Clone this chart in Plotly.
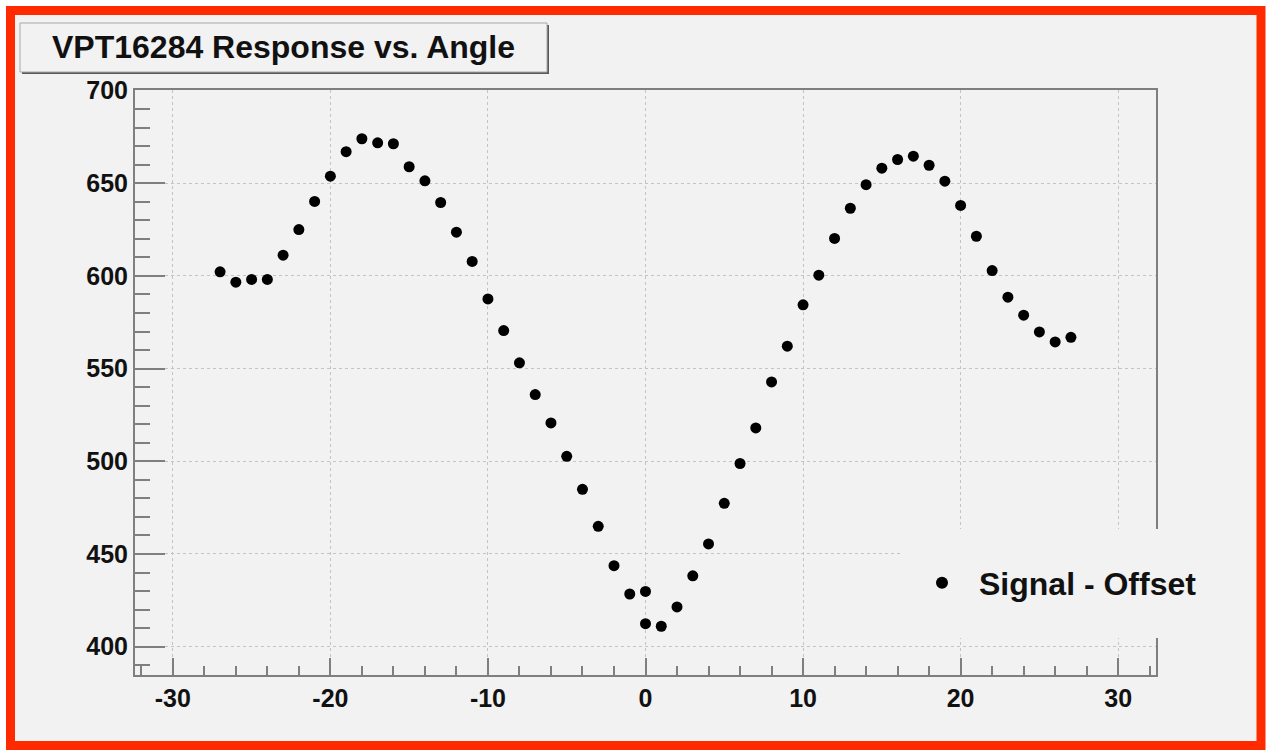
import plotly.graph_objects as go

# ---- data ----
angles = [-27, -26, -25, -24, -23, -22, -21, -20, -19, -18, -17, -16, -15, -14,
          -13, -12, -11, -10, -9, -8, -7, -6, -5, -4, -3, -2, -1, 0, 0,
          1, 2, 3, 4, 5, 6, 7, 8, 9, 10, 11, 12, 13, 14, 15, 16, 17, 18, 19,
          20, 21, 22, 23, 24, 25, 26, 27]
signal = [602.2, 596.6, 598.1, 598.1, 611.2, 625.0, 640.2, 653.8, 667.0, 674.0,
          671.8, 671.3, 658.9, 651.3, 639.6, 623.6, 607.8, 587.6, 570.5, 553.1,
          536.0, 520.7, 502.7, 484.9, 464.9, 443.7, 428.4, 429.8, 412.4,
          411.0, 421.4, 438.2, 455.4, 477.3, 498.8, 518.0, 542.8, 562.1, 584.4,
          600.4, 620.2, 636.5, 649.2, 658.1, 662.8, 664.6, 659.7, 651.1, 638.0,
          621.4, 602.9, 588.5, 578.8, 569.8, 564.4, 566.9]
series_name = "Signal - Offset"
title_text = "VPT16284 Response vs. Angle"
x_ticks = [-30, -20, -10, 0, 10, 20, 30]
y_ticks = [400, 450, 500, 550, 600, 650, 700]

W, H = 1268, 751
ML, MR, MT, MB = 135, 112, 90, 76
PW, PH = W - ML - MR, H - MT - MB


def px(x):
    return (x - ML) / PW


def py(y):
    return (H - MB - y) / PH


FONT = "Liberation Sans, Arial, Helvetica, sans-serif"
BG = "#f2f2f2"
AX = "#7f7f7f"

fig = go.Figure()
fig.add_trace(go.Scatter(
    x=angles, y=signal, mode="markers", name=series_name,
    marker=dict(color="black", size=11, symbol="circle"),
))

shapes = [
    # canvas with red border
    dict(type="rect", xref="paper", yref="paper", layer="below",
         x0=px(10.5), x1=px(1261), y0=py(10.5), y1=py(745.5),
         fillcolor=BG, line=dict(color="#ff2a00", width=9)),
    # title box shadow
    dict(type="rect", xref="paper", yref="paper", layer="below",
         x0=px(22), x1=px(549), y0=py(25), y1=py(74),
         fillcolor="#5a5a5a", line=dict(width=0)),
    # title box
    dict(type="rect", xref="paper", yref="paper", layer="below",
         x0=px(20), x1=px(547), y0=py(23), y1=py(72),
         fillcolor=BG, line=dict(color="#a8a8a8", width=1)),
    # legend background (covers grid and frame)
    dict(type="rect", xref="paper", yref="paper", layer="above",
         x0=px(900), x1=px(1200), y0=py(529), y1=py(638),
         fillcolor=BG, line=dict(width=0)),
]

fig.update_layout(
    width=W, height=H,
    margin=dict(l=ML, r=MR, t=MT, b=MB, pad=0),
    paper_bgcolor="white",
    plot_bgcolor="rgba(0,0,0,0)",
    font=dict(family=FONT, color="black"),
    shapes=shapes,
    annotations=[dict(
        text=title_text, xref="paper", yref="paper",
        x=px(283.5), y=py(47), xanchor="center", yanchor="middle",
        showarrow=False, font=dict(family=FONT, size=32, color="#111", weight="bold"),
    )],
    showlegend=True,
    legend=dict(
        x=px(905), y=py(583), xanchor="left", yanchor="middle",
        bgcolor="rgba(0,0,0,0)", borderwidth=0,
        font=dict(family=FONT, size=32, color="#111", weight="bold"),
        itemwidth=64, itemsizing="constant",
    ),
    xaxis=dict(
        range=[-32.4, 32.4], tickmode="array", tickvals=x_ticks,
        ticktext=[str(v) for v in x_ticks],
        showline=True, linecolor=AX, linewidth=2, mirror=True,
        ticks="inside", ticklen=17, tickwidth=2, tickcolor=AX,
        tickfont=dict(family=FONT, size=25, color="#111", weight="bold"),
        showgrid=True, gridcolor="#c4c4c4", griddash="dot", gridwidth=1,
        zeroline=False,
        minor=dict(ticks="inside", ticklen=9, tickwidth=2, tickcolor=AX,
                   dtick=2, tick0=0, showgrid=False),
    ),
    yaxis=dict(
        range=[384.7, 700.3], tickmode="array", tickvals=y_ticks,
        ticktext=[str(v) for v in y_ticks],
        showline=True, linecolor=AX, linewidth=2, mirror=True,
        ticks="inside", ticklen=30, tickwidth=2, tickcolor=AX,
        tickfont=dict(family=FONT, size=25, color="#111", weight="bold"),
        showgrid=True, gridcolor="#c4c4c4", griddash="dot", gridwidth=1,
        zeroline=False,
        minor=dict(ticks="inside", ticklen=15, tickwidth=2, tickcolor=AX,
                   dtick=10, tick0=0, showgrid=False),
    ),
)

fig.write_html("out.html")
